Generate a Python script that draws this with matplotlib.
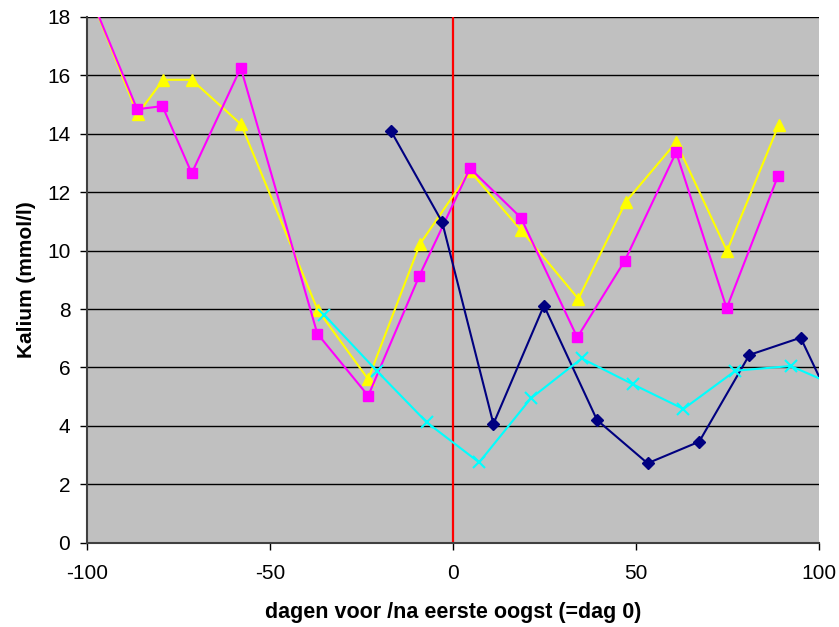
import numpy as np
import matplotlib
matplotlib.use('Agg')
import matplotlib.pyplot as plt

plt.rcParams['font.family'] = ['Liberation Sans', 'DejaVu Sans']
plt.rcParams['axes.unicode_minus'] = False

# data (x = dagen, y = kalium mmol/l)
navy_x = [-17.0, -3.0, 11.0, 24.8, 39.3, 53.1, 67.2, 80.9, 94.9, 109.0]
navy_y = [14.1, 10.98, 4.07, 8.12, 4.2, 2.72, 3.46, 6.43, 7.02, 3.3]

magenta_x = [-100.0, -86.3, -79.4, -71.4, -58.0, -37.1, -23.2, -9.3, 4.6, 18.5,
             33.9, 46.9, 60.9, 74.7, 88.7]
magenta_y = [19.0, 14.84, 14.95, 12.65, 16.26, 7.16, 5.03, 9.12, 12.82, 11.13,
             7.03, 9.66, 13.37, 8.03, 12.55]

yellow_x = [-100.0, -86.2, -79.2, -71.4, -57.9, -37.0, -23.2, -9.1, 4.6, 18.5,
            34.2, 47.2, 60.9, 74.8, 88.9]
yellow_y = [19.0, 14.67, 15.85, 15.85, 14.32, 7.97, 5.6, 10.22, 12.72, 10.71,
            8.35, 11.68, 13.71, 9.99, 14.3]

cyan_x = [-35.2, -20.9, -7.2, 7.1, 21.2, 35.1, 49.0, 62.9, 77.1, 92.2, 106.0]
cyan_y = [7.8, 5.89, 4.12, 2.75, 4.94, 6.31, 5.43, 4.58, 5.89, 6.05, 5.3]

oogst_dag = 0
x_ticks = [-100, -50, 0, 50, 100]
y_ticks = np.arange(0, 19, 2)

fig = plt.figure(figsize=(8.39, 6.27), dpi=100)
ax = fig.add_axes([0.1037, 0.1344, 0.8728, 0.8385])
ax.set_facecolor('#c0c0c0')

ax.axvline(oogst_dag, color='#ff0000', lw=1.6, zorder=2.5)

ax.plot(yellow_x, yellow_y, color='#ffff00', lw=1.5, marker='^', ms=8,
        mec='#ffff00', zorder=3)
ax.plot(magenta_x, magenta_y, color='#ff00ff', lw=1.5, marker='s', ms=7,
        mec='#ff00ff', zorder=4)
ax.plot(navy_x, navy_y, color='#000080', lw=1.5, marker='D', ms=6,
        mec='#000080', zorder=5)
ax.plot(cyan_x, cyan_y, color='#00ffff', lw=1.5, marker='x', ms=8, mew=1.5,
        zorder=6)

ax.set_xlim(-100, 100)
ax.set_ylim(0, 18)
ax.set_xticks(x_ticks)
ax.set_yticks(y_ticks)
ax.yaxis.grid(True, color='black', lw=1)
ax.set_axisbelow(True)

for s in ['top', 'right']:
    ax.spines[s].set_visible(False)
for s in ['left', 'bottom']:
    ax.spines[s].set_color('#404040')
    ax.spines[s].set_linewidth(1.5)
ax.tick_params(direction='out', length=5, width=1, labelsize=15)
ax.tick_params(axis='x', pad=10)
ax.tick_params(axis='y', pad=7)

ax.set_xlabel('dagen voor /na eerste oogst (=dag 0)', fontsize=15.5,
              fontweight='bold', labelpad=14)
ax.set_ylabel('Kalium (mmol/l)', fontsize=15, fontweight='bold', labelpad=8)

fig.savefig('out.png', dpi=100)
